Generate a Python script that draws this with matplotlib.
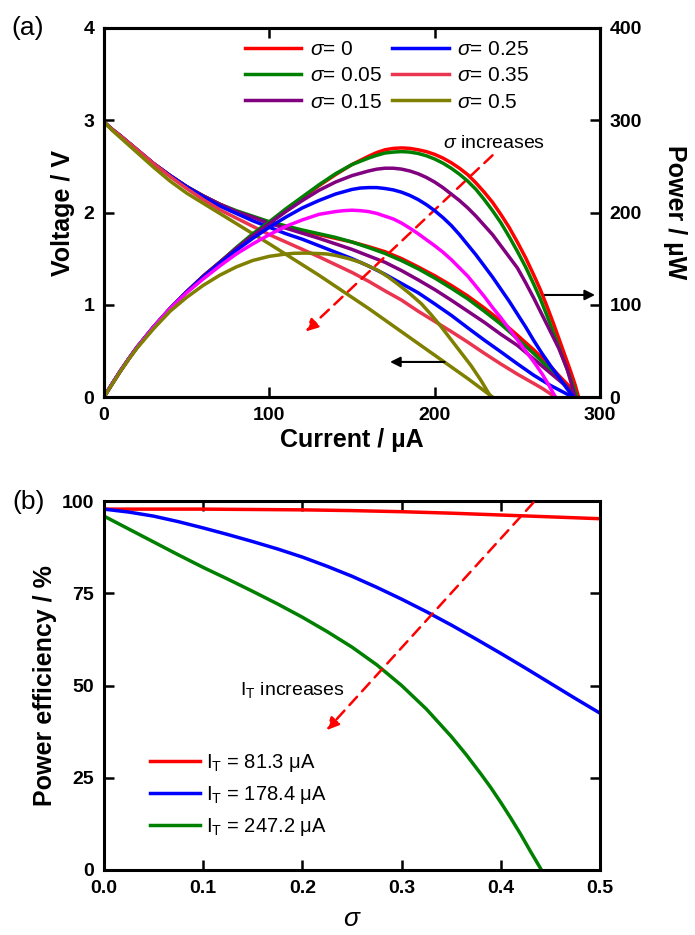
import numpy as np
import matplotlib
matplotlib.use('Agg')
import matplotlib.pyplot as plt

# ---------------------------------------------------------------------------#
# ------------------------------- Chart Data --------------------------------#

# Panel (a): voltage (left axis) and power (right axis) against current
sigmaLabels = ['0', '0.05', '0.15', '0.25', '0.35', '0.5']

# Voltage curves: current (uA) and voltage (V)
currentV_0 = [0, 5, 10, 15, 20, 30, 40, 50, 60, 70, 80, 90, 100, 110, 120, 130, 140, 150, 160, 170, 180, 190, 200,
              210, 220, 230, 240, 250, 260, 268, 275, 282, 287]
voltage_0 = [2.98, 2.90, 2.83, 2.755, 2.68, 2.53, 2.40, 2.28, 2.18, 2.09, 2.01, 1.95, 1.89, 1.84, 1.80, 1.76, 1.72,
             1.68, 1.63, 1.575, 1.50, 1.41, 1.315, 1.21, 1.095, 0.965, 0.825, 0.67, 0.51, 0.37, 0.235, 0.105, 0.0]
currentV_005 = [0, 5, 10, 15, 20, 30, 40, 50, 60, 70, 80, 90, 100, 110, 120, 130, 140, 150, 160, 170, 180, 190, 200,
                210, 220, 230, 240, 250, 260, 268, 275, 281, 286]
voltage_005 = [2.98, 2.90, 2.83, 2.755, 2.68, 2.53, 2.40, 2.28, 2.18, 2.09, 2.02, 1.96, 1.90, 1.855, 1.81, 1.77, 1.73,
               1.68, 1.62, 1.556, 1.478, 1.39, 1.29, 1.18, 1.064, 0.93, 0.79, 0.632, 0.47, 0.33, 0.20, 0.093, 0.0]
currentV_015 = [0, 5, 10, 15, 20, 30, 40, 50, 60, 70, 80, 90, 100, 110, 120, 130, 140, 150, 160, 170, 180, 190, 200,
                210, 220, 230, 240, 250, 260, 270, 280, 285]
voltage_015 = [2.98, 2.90, 2.83, 2.755, 2.68, 2.53, 2.40, 2.28, 2.18, 2.09, 2.01, 1.95, 1.88, 1.83, 1.775, 1.72, 1.66,
               1.60, 1.53, 1.46, 1.37, 1.27, 1.165, 1.05, 0.93, 0.81, 0.68, 0.56, 0.41, 0.26, 0.11, 0.0]
currentV_025 = [0, 5, 10, 15, 20, 30, 40, 50, 60, 70, 80, 90, 100, 110, 120, 130, 140, 150, 160, 170, 180, 190, 200,
                210, 220, 230, 240, 250, 260, 270, 280, 284]
voltage_025 = [2.98, 2.90, 2.83, 2.755, 2.68, 2.53, 2.40, 2.28, 2.17, 2.07, 1.99, 1.91, 1.84, 1.77, 1.71, 1.64, 1.57,
               1.50, 1.42, 1.33, 1.23, 1.13, 1.01, 0.886, 0.75, 0.617, 0.49, 0.36, 0.235, 0.126, 0.032, 0.0]
currentV_035 = [0, 5, 10, 15, 20, 30, 40, 50, 60, 70, 80, 90, 100, 110, 120, 130, 140, 150, 160, 170, 180, 190, 200,
                210, 220, 230, 240, 250, 260, 265, 273]
voltage_035 = [2.98, 2.90, 2.83, 2.755, 2.68, 2.53, 2.39, 2.26, 2.14, 2.03, 1.94, 1.85, 1.76, 1.68, 1.60, 1.52, 1.435,
               1.35, 1.255, 1.15, 1.05, 0.93, 0.82, 0.71, 0.595, 0.474, 0.358, 0.248, 0.146, 0.094, 0.0]
currentV_05 = [0, 5, 10, 15, 20, 30, 40, 50, 60, 70, 80, 90, 100, 115, 130, 145, 160, 175, 190, 205, 220, 235]
voltage_05 = [2.98, 2.89, 2.81, 2.73, 2.65, 2.49, 2.34, 2.21, 2.10, 1.99, 1.88, 1.77, 1.66, 1.49, 1.32, 1.14, 0.96,
              0.77, 0.58, 0.39, 0.20, 0.0]

# Power curves: current (uA) and power (uW)
currentP_0 = [0, 5, 10, 15, 20, 30, 40, 50, 60, 70, 80, 90, 100, 110, 120, 130, 140, 150, 160, 165, 170, 175, 180, 185,
              190, 195, 200, 205, 210, 215, 220, 225, 230, 235, 240, 245, 250, 255, 260, 264, 268, 272, 275, 278, 282,
              285, 287]
power_0 = [0, 14.5, 28.5, 41.5, 54, 76, 96, 114, 131, 146, 161, 175, 189, 202, 216, 229, 241, 252, 261, 265, 268, 269.5,
           270, 269.5, 268, 266, 263, 259, 254, 248, 241, 232, 222, 211, 198, 184, 168, 151, 132, 116, 98, 79, 64, 49,
           29, 13, 0]
currentP_005 = [0, 5, 10, 15, 20, 30, 40, 50, 60, 70, 80, 90, 100, 110, 120, 130, 140, 150, 160, 165, 170, 175, 180,
                185, 190, 195, 200, 205, 210, 215, 220, 225, 230, 235, 240, 245, 250, 255, 260, 264, 268, 272, 275, 278,
                281, 284, 286]
power_005 = [0, 14.5, 28.5, 41.5, 54, 76, 96, 114, 131, 146, 162, 177, 190, 204, 217, 230, 242, 252, 259, 262, 264.5,
             265.5, 266, 265.5, 264, 261.5, 258, 253.5, 248, 241.5, 234, 225, 214, 202, 189, 174, 158, 141, 122, 106, 88,
             69, 55, 40, 26, 11, 0]
currentP_015 = [0, 5, 10, 15, 20, 30, 40, 50, 60, 70, 80, 90, 100, 110, 120, 130, 140, 150, 160, 165, 170, 175, 180,
                185, 190, 195, 200, 205, 210, 215, 220, 225, 230, 235, 240, 245, 250, 255, 260, 265, 270, 275, 280, 285]
power_015 = [0, 14.5, 28.5, 41.5, 54, 76, 96, 114, 131, 146, 161, 175, 188, 201, 213, 224, 233, 240, 245, 247, 248, 248,
             247, 245, 242, 238, 233, 227, 220, 213, 205, 196, 186, 176, 164, 152, 140, 124, 107, 89, 71, 53, 31, 0]
currentP_025 = [0, 5, 10, 15, 20, 30, 40, 50, 60, 70, 80, 90, 100, 110, 120, 130, 140, 150, 155, 160, 165, 170, 175,
                180, 185, 190, 195, 200, 205, 210, 215, 220, 225, 230, 235, 240, 245, 250, 255, 260, 265, 270, 275, 280,
                284]
power_025 = [0, 14.5, 28.5, 41.5, 54, 76, 96, 114, 130, 145, 159, 172, 184, 195, 205, 213, 220, 225, 226.5, 227, 227,
             226, 224.5, 222, 218.5, 214, 208.5, 202, 194.5, 186, 176, 165, 154, 142, 130, 117, 104, 90, 76, 61, 47, 34,
             22, 9, 0]
currentP_035 = [0, 5, 10, 15, 20, 30, 40, 50, 60, 70, 80, 90, 100, 110, 120, 130, 140, 145, 150, 155, 160, 165, 170,
                175, 180, 185, 190, 195, 200, 205, 210, 215, 220, 225, 230, 235, 240, 245, 250, 255, 260, 265, 269, 273]
power_035 = [0, 14.5, 28.5, 41.5, 54, 76, 96, 113, 128, 142, 155, 166, 176, 185, 192, 198, 201, 202, 202.5, 202, 201,
             199, 196, 193, 188.5, 183, 177, 170.5, 164, 157, 149, 140, 131, 120, 109, 97, 86, 74, 62, 50, 38, 25, 13, 0]
currentP_05 = [0, 5, 10, 15, 20, 30, 40, 50, 60, 70, 80, 90, 100, 110, 115, 122, 130, 135, 140, 148, 155, 160, 166,
               172, 178, 185, 192, 198, 204, 210, 216, 222, 228, 234]
power_05 = [0, 14, 28, 41, 53, 74, 93, 108, 121, 132, 141, 148, 152.5, 155, 155.8, 156, 155.5, 155, 153.5, 150, 146,
            142, 137, 130, 122, 112, 101, 89, 76, 62, 48, 34, 18, 0]

# Panel (b): power efficiency against sigma
sigmaRed = [0, 0.05, 0.1, 0.15, 0.2, 0.25, 0.3, 0.35, 0.4, 0.45, 0.5]
efficiencyRed = [97.8, 97.8, 97.8, 97.7, 97.6, 97.4, 97.1, 96.7, 96.2, 95.7, 95.2]
sigmaBlue = [0, 0.025, 0.05, 0.075, 0.1, 0.125, 0.15, 0.175, 0.2, 0.225, 0.25, 0.275, 0.3, 0.325, 0.35, 0.375, 0.4,
             0.425, 0.45, 0.475, 0.5]
efficiencyBlue = [97.8, 97.0, 95.9, 94.4, 92.7, 90.9, 89.0, 87.0, 84.8, 82.3, 79.6, 76.6, 73.4, 70.0, 66.4, 62.6, 58.7,
                  54.7, 50.6, 46.5, 42.5]
sigmaGreen = [0, 0.025, 0.05, 0.075, 0.1, 0.125, 0.15, 0.175, 0.2, 0.225, 0.25, 0.275, 0.3, 0.325, 0.35, 0.365, 0.38,
              0.39, 0.4, 0.41, 0.42, 0.43, 0.441]
efficiencyGreen = [95.9, 92.4, 88.9, 85.4, 82.0, 78.8, 75.5, 72.1, 68.5, 64.6, 60.4, 55.6, 50.0, 43.6, 36.2, 31.3,
                   26.0, 22.3, 18.3, 14.1, 9.7, 5.0, 0.0]
currentLabels = ['81.3', '178.4', '247.2']

# ---------------------------------------------------------------------------#
# ------------------------------ Plot Styling -------------------------------#

plt.rcParams['font.family'] = ['Liberation Sans', 'DejaVu Sans']
plt.rcParams['mathtext.fontset'] = 'custom'
plt.rcParams['mathtext.rm'] = 'Liberation Sans'
plt.rcParams['mathtext.it'] = 'Liberation Sans:italic'
plt.rcParams['mathtext.bf'] = 'Liberation Sans:bold'

voltageColors = ['#ff0000', '#008000', '#800080', '#0000ff', '#ea3550', '#808000']
powerColors = ['#ff0000', '#008000', '#800080', '#0000ff', '#ff00ff', '#808000']
lineWidth = 2.5


def styleAxis(axis, tickSides):
    for spine in axis.spines.values():
        spine.set_linewidth(2.2)
    axis.tick_params(direction='in', length=7, width=1.8, labelsize=14, pad=7, **tickSides)
    for label in axis.get_xticklabels() + axis.get_yticklabels():
        label.set_fontweight('bold')


fig = plt.figure(figsize=(6.95, 9.35), dpi=100)
axA = fig.add_axes([104 / 695, 1 - 397 / 935, 496 / 695, 369 / 935])
axP = axA.twinx()
axB = fig.add_axes([104 / 695, 1 - 870 / 935, 496 / 695, 369 / 935])

# ---------------------------- Panel (a) ------------------------------------#
voltageSeries = [(currentV_0, voltage_0), (currentV_005, voltage_005), (currentV_015, voltage_015),
                 (currentV_025, voltage_025), (currentV_035, voltage_035), (currentV_05, voltage_05)]
powerSeries = [(currentP_0, power_0), (currentP_005, power_005), (currentP_015, power_015),
               (currentP_025, power_025), (currentP_035, power_035), (currentP_05, power_05)]

legendHandles = []
for ind, (current, voltage) in enumerate(voltageSeries):
    line, = axA.plot(current, voltage, color=voltageColors[ind], linewidth=lineWidth,
                     label=r'$\sigma$= ' + sigmaLabels[ind])
    legendHandles.append(line)
for ind, (current, power) in enumerate(powerSeries):
    axP.plot(current, power, color=powerColors[ind], linewidth=lineWidth)

axA.set_xlim(0, 300)
axA.set_ylim(0, 4)
axP.set_ylim(0, 400)
axA.set_xticks([0, 100, 200, 300])
axA.set_yticks([0, 1, 2, 3, 4])
axP.set_yticks([0, 100, 200, 300, 400])
styleAxis(axA, dict(top=True, right=False))
styleAxis(axP, dict(right=True))

axA.set_xlabel('Current / µA', fontsize=18, fontweight='bold')
axA.xaxis.set_label_coords(0.5, -0.085)
axA.set_ylabel('Voltage / V', fontsize=18, fontweight='bold')
axA.yaxis.set_label_coords(-0.058, 0.5)
axP.set_ylabel('Power / µW', fontsize=18, fontweight='bold', rotation=270, va='bottom')
axP.yaxis.set_label_coords(1.128, 0.5)

axP.legend(handles=legendHandles, loc='upper left', ncol=2, frameon=False, fontsize=15,
           bbox_to_anchor=(245 / 695, 1 - 40 / 935), bbox_transform=fig.transFigure,
           borderpad=0, borderaxespad=0, handlelength=2.7, handletextpad=0.4,
           columnspacing=0.5, labelspacing=0.35)

# Annotations
axA.text(205, 2.75, r'$\sigma$ increases', fontsize=14, ha='left', va='center')
axA.annotate('', xy=(122, 0.71), xytext=(235, 2.62),
             arrowprops=dict(arrowstyle='-|>', color='#ff0000', lw=1.8, linestyle=(0, (4.5, 3)),
                             mutation_scale=18, shrinkA=0, shrinkB=0))
axA.annotate('', xy=(297, 1.106), xytext=(265, 1.106),
             arrowprops=dict(arrowstyle='-|>', color='black', lw=1.5, mutation_scale=15, shrinkA=0, shrinkB=0))
axA.annotate('', xy=(173, 0.38), xytext=(206, 0.38),
             arrowprops=dict(arrowstyle='-|>', color='black', lw=1.5, mutation_scale=15, shrinkA=0, shrinkB=0))

# ---------------------------- Panel (b) ------------------------------------#
axB.plot(sigmaRed, efficiencyRed, color='#ff0000', linewidth=lineWidth,
         label=r'I$_\mathrm{T}$ = ' + currentLabels[0] + ' μA')
axB.plot(sigmaBlue, efficiencyBlue, color='#0000ff', linewidth=lineWidth,
         label=r'I$_\mathrm{T}$ = ' + currentLabels[1] + ' μA')
axB.plot(sigmaGreen, efficiencyGreen, color='#008000', linewidth=lineWidth,
         label=r'I$_\mathrm{T}$ = ' + currentLabels[2] + ' μA')

axB.set_xlim(0, 0.5)
axB.set_ylim(0, 100)
axB.set_xticks([0, 0.1, 0.2, 0.3, 0.4, 0.5])
axB.set_xticklabels(['0.0', '0.1', '0.2', '0.3', '0.4', '0.5'])
axB.set_yticks([0, 25, 50, 75, 100])
styleAxis(axB, dict(top=True, right=True))

axB.set_xlabel(r'$\sigma$', fontsize=19)
axB.xaxis.set_label_coords(0.5, -0.1)
axB.set_ylabel('Power efficiency / %', fontsize=18, fontweight='bold')
axB.yaxis.set_label_coords(-0.095, 0.5)

axB.legend(loc='upper left', frameon=False, fontsize=14.5,
           bbox_to_anchor=(150 / 695, 1 - 752 / 935), bbox_transform=fig.transFigure,
           borderpad=0, borderaxespad=0, handlelength=2.5, handletextpad=0.3, labelspacing=0.5)

axB.text(0.137, 48.8, r'I$_\mathrm{T}$ increases', fontsize=14, ha='left', va='center')
axB.annotate('', xy=(0.2245, 37.9), xytext=(0.433, 99.6),
             arrowprops=dict(arrowstyle='-|>', color='#ff0000', lw=1.8, linestyle=(0, (4.5, 3)),
                             mutation_scale=18, shrinkA=0, shrinkB=0))

# Panel labels
fig.text(28 / 695, 1 - 28 / 935, '(a)', fontsize=19, ha='center', va='center')
fig.text(29 / 695, 1 - 502 / 935, '(b)', fontsize=19, ha='center', va='center')

fig.savefig('out.png', dpi=100, facecolor='white')
